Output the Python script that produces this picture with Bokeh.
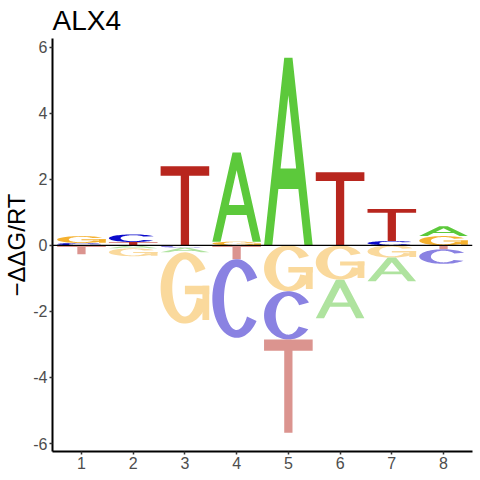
import numpy as np
from bokeh.plotting import figure
from bokeh.models import Span, Title
from bokeh.embed import file_html
from bokeh.resources import INLINE

title_text = "ALX4"
y_label = "\u2212\u0394\u0394G/RT"
positions = [1, 2, 3, 4, 5, 6, 7, 8]
letters = ["A", "C", "G", "T"]
val_A = [-0.02, -0.09, -0.14, 2.70, 5.68, -1.17, -0.72, 0.30]
val_C = [0.07, 0.23, -0.07, -2.38, -1.46, 0.00, 0.13, -0.44]
val_G = [0.21, -0.24, -2.16, 0.11, -1.39, -1.04, -0.37, 0.28]
val_T = [-0.25, 0.10, 2.39, -0.42, -2.82, 2.21, 0.97, -0.12]
y_ticks = [-6, -4, -2, 0, 2, 4, 6]
y_tick_labels = ["-6", "-4", "-2", "0", "2", "4", "6"]

pos_colors = {"A": "#5CC93B", "C": "#0A0ACC", "G": "#F5B12F", "T": "#B8261E"}
neg_colors = {"A": "#AFE39F", "C": "#8A82E2", "G": "#FAD99C", "T": "#DB948F"}
letter_width = 0.94


def arc(rx, ry, a0, a1, n=60):
    t = np.radians(np.linspace(a0, a1, n))
    return list(0.5 + rx * np.cos(t)), list(0.5 + ry * np.sin(t))


def shape(letter):
    """Unit-box outline(s) of a letter: list of polygons, each list of rings."""
    if letter == "T":
        return [[([0, 1, 1, 0.585, 0.585, 0.415, 0.415, 0],
                  [1, 1, 0.88, 0.88, 0, 0, 0.88, 0.88])]]
    if letter == "A":
        outer = ([0, 0.415, 0.585, 1, 0.83, 0.7055, 0.2945, 0.17],
                 [0, 1, 1, 0, 0, 0.3, 0.3, 0])
        hole = ([0.34, 0.66, 0.5], [0.41, 0.41, 0.80])
        return [[outer, hole]]
    if letter == "C":
        ox, oy = arc(0.5, 0.5, 32, 325)
        ix, iy = arc(0.26, 0.4, 325, 32)
        return [[(ox + ix, oy + iy)]]
    if letter == "G":
        ox, oy = arc(0.5, 0.5, 32, 340)
        ix, iy = arc(0.26, 0.4, 340, 32)
        stem = ([0.86, 1.0, 1.0, 0.86], [0.05, 0.05, 0.53, 0.53])
        bar = ([0.5, 1.0, 1.0, 0.5], [0.41, 0.41, 0.53, 0.53])
        return [[(ox + ix, oy + iy)], [stem], [bar]]
    return []


values = {"A": val_A, "C": val_C, "G": val_G, "T": val_T}

xs_all, ys_all, colors = [], [], []
for i, xpos in enumerate(positions):
    items = [(L, values[L][i]) for L in letters]
    pos_items = sorted([it for it in items if it[1] > 0], key=lambda t: t[1])
    neg_items = sorted([it for it in items if it[1] < 0], key=lambda t: -t[1])
    stacks = []
    base = 0.0
    for L, v in pos_items:
        stacks.append((L, base, base + v, pos_colors[L]))
        base += v
    base = 0.0
    for L, v in neg_items:
        stacks.append((L, base + v, base, neg_colors[L]))
        base += v
    x0 = xpos - letter_width / 2
    for L, y0, y1, col in stacks:
        h = y1 - y0
        for poly in shape(L):
            rings_x = [[x0 + letter_width * px for px in ring[0]] for ring in poly]
            rings_y = [[y0 + h * py for py in ring[1]] for ring in poly]
            xs_all.append([rings_x])
            ys_all.append([rings_y])
            colors.append(col)

p = figure(width=478, height=478, x_range=(0.44, 8.56), y_range=(-6.24, 6.26),
           output_backend="svg", toolbar_location=None, title=None,
           min_border_left=52, min_border_right=6, min_border_top=36,
           min_border_bottom=27)

p.multi_polygons(xs=xs_all, ys=ys_all, fill_color=colors, line_color=None)
p.add_layout(Span(location=0, dimension="width", line_color="black", line_width=1.2))

for ax in (p.xaxis, p.yaxis):
    ax.axis_line_color = "black"
    ax.axis_line_width = 2
    ax.major_tick_line_color = "#333333"
    ax.major_tick_line_width = 1.5
    ax.major_tick_out = 3
    ax.major_tick_in = 0
    ax.minor_tick_line_color = None
    ax.major_label_text_font = "Liberation Sans"
    ax.major_label_text_font_size = "16px"
    ax.major_label_text_color = "#4D4D4D"
    ax.major_label_standoff = 2
p.xaxis.ticker = positions
p.yaxis.ticker = y_ticks
p.yaxis.major_label_overrides = {t: s for t, s in zip(y_ticks, y_tick_labels)}
p.yaxis.axis_label = y_label
p.yaxis.axis_label_text_font = "Liberation Sans"
p.yaxis.axis_label_text_font_size = "24px"
p.yaxis.axis_label_text_font_style = "normal"
p.yaxis.axis_label_text_color = "black"
p.yaxis.axis_label_standoff = 0
p.xgrid.grid_line_color = None
p.ygrid.grid_line_color = None
p.outline_line_color = None
p.background_fill_color = "white"
p.border_fill_color = "white"

p.add_layout(Title(text=title_text, text_font="Liberation Sans", text_font_size="28px",
                   text_font_style="normal", text_color="black", align="left",
                   standoff=5, offset=0), "above")

open("out.html", "w").write(file_html(p, INLINE))
